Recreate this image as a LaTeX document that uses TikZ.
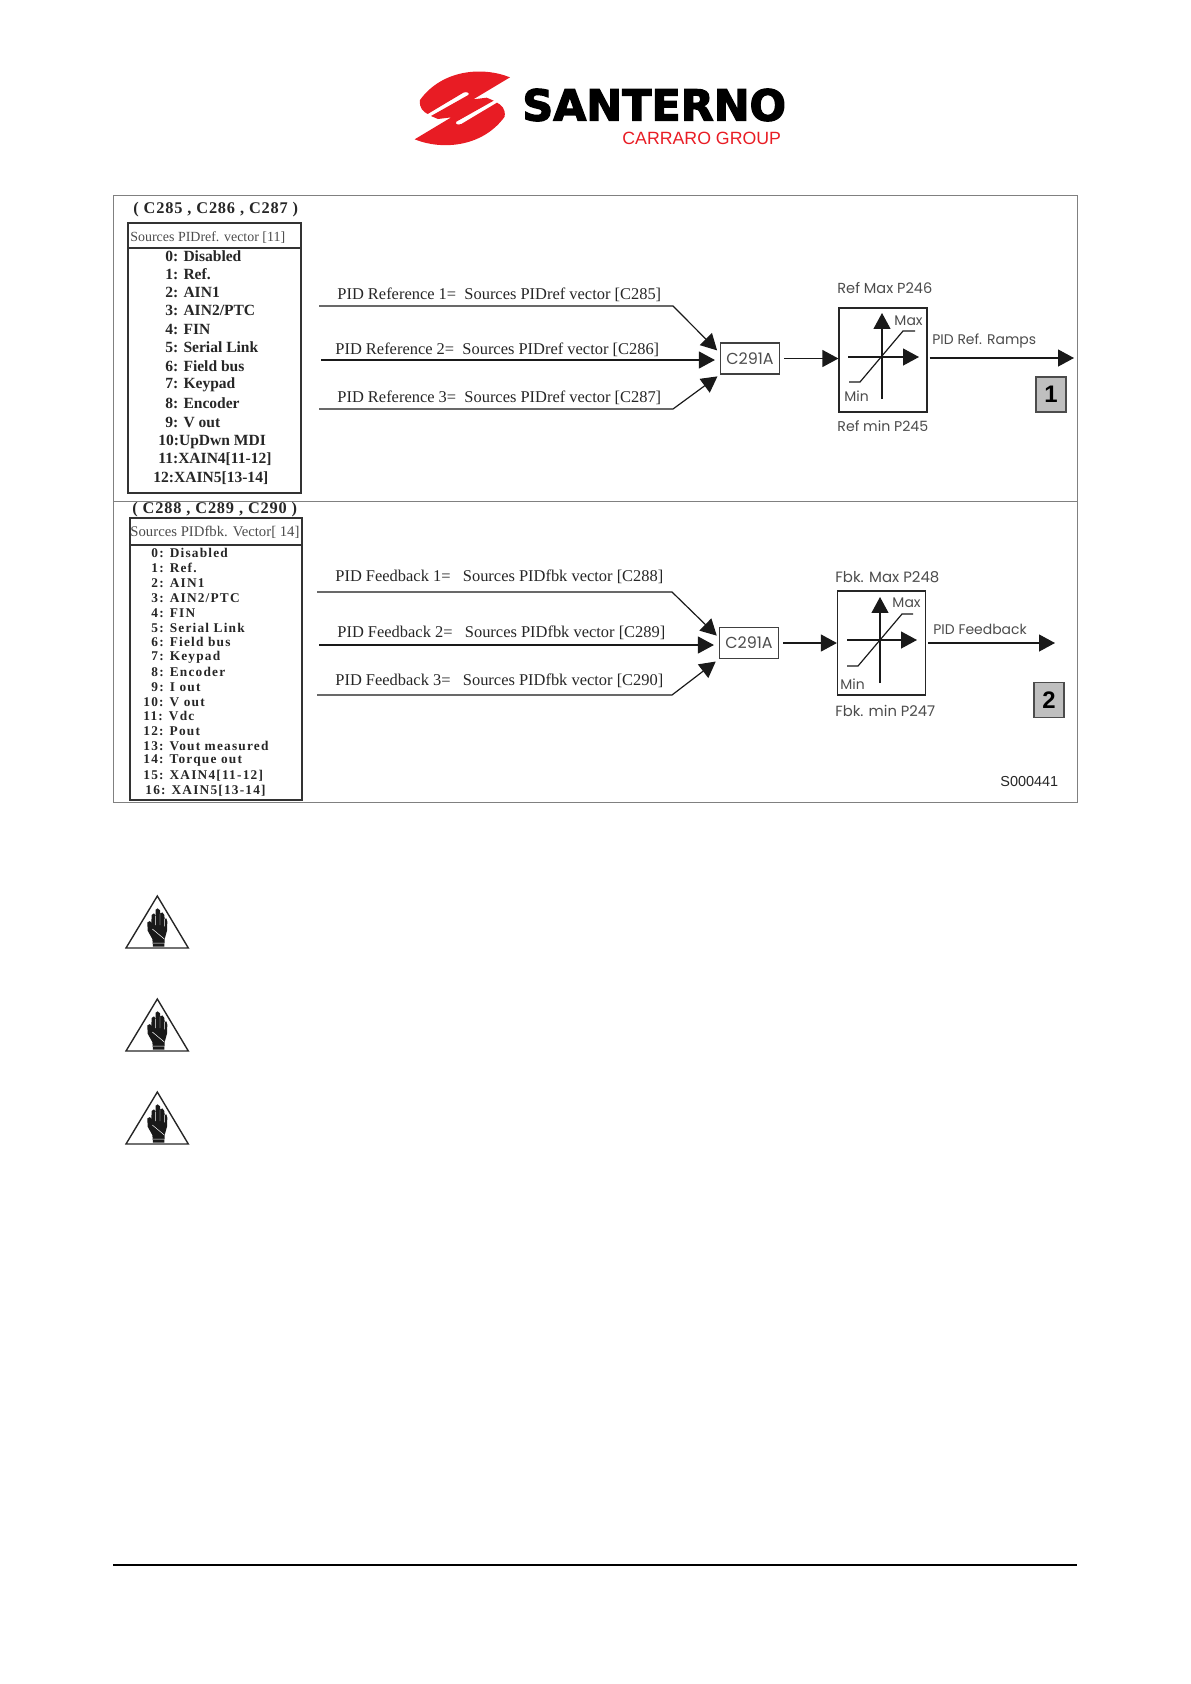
\documentclass[tikz,border=0pt]{standalone}
\usepackage{fontspec}
\setmainfont{Liberation Serif}
\newfontfamily\blockfont{Poppins}
\newfontfamily\codefont{Liberation Sans}
\newfontfamily\logofont{DejaVu Sans}[BoldFeatures={FakeBold=3}]
\newfontfamily\fbkfont{Liberation Serif}[LetterSpace=9]
\newfontfamily\selfont{Liberation Serif}[LetterSpace=5]
\definecolor{brandred}{RGB}{232,28,36}
\usetikzlibrary{arrows.meta, positioning, calc}

\begin{document}
\begin{tikzpicture}[
        x=0.5bp, y=-0.5bp,
        frameline/.style={draw=black!50, line width=0.5pt},
        listbox/.style={draw=black!80, line width=0.6pt, inner sep=0pt},
        sellabel/.style={anchor=west, inner sep=0pt, font=\fontsize{8.2}{9}\selectfont\selfont\bfseries, text=black!85},
        listhead/.style={anchor=west, inner sep=0pt, font=\fontsize{7}{9}\selectfont, text=black!70},
        refitem/.style={anchor=west, inner sep=0pt, font=\fontsize{7.8}{9}\selectfont\bfseries, text=black!85},
        fbkitem/.style={anchor=west, inner sep=0pt, font=\fontsize{6.7}{8}\selectfont\fbkfont\bfseries, text=black!85},
        linklabel/.style={anchor=west, inner sep=0pt, font=\fontsize{8.25}{10}\selectfont, text=black!85},
        blocklabel/.style={anchor=west, inner sep=0pt, font=\fontsize{7}{9}\selectfont\blockfont, text=black!70},
        selbox/.style={draw=black!75, line width=0.6pt, minimum width=29.5bp, minimum height=15.5bp, inner sep=0pt, font=\fontsize{8}{9}\selectfont\blockfont, text=black!70},
        limiter/.style={draw=black!85, line width=0.6pt, minimum width=44bp, minimum height=52bp, inner sep=0pt},
        tile/.style={draw=black!70, line width=0.8pt, fill=black!25, minimum width=15bp, minimum height=17.5bp, inner sep=0pt, font=\fontsize{12}{12}\selectfont\codefont\bfseries},
        wire/.style={line width=0.6pt, black!90},
        >={Triangle[length=8pt, width=8.5pt]}
    ]

    \useasboundingbox (0,0) rectangle (1191,1684);

    % ---- logo ----
    \begin{scope}[shift={(405,60)}, x=0.5bp/3, y=-0.5bp/3]
        \fill[brandred]
            (315,52) .. controls (230,18) and (110,30) .. (45,120)
            .. controls (42,145) and (55,155) .. (68,162) -- (175,98)
            .. controls (185,94) and (195,98) .. (190,105) -- (78,168) -- (99,177) -- (139,172)
            -- (29,238) .. controls (114,272) and (234,260) .. (299,170)
            .. controls (302,145) and (289,135) .. (276,128) -- (169,192)
            .. controls (159,196) and (149,192) .. (154,185) -- (266,122) -- (245,113) -- (205,118)
            -- cycle;
    \end{scope}
    \node[anchor=west, inner sep=0pt, font=\fontsize{21.5}{22}\selectfont\logofont\bfseries] (brand) at (522,105) {SANTERNO};
    \node[anchor=west, inner sep=0pt, text=brandred, font=\fontsize{8.9}{10}\selectfont\codefont] (group) at (622,138) {CARRARO GROUP};

    % ---- outer frame ----
    \node[frameline, minimum width=481.5bp, minimum height=303.5bp, inner sep=0pt] (frame) at (595.5,498.5) {};
    \draw[frameline] (frame.west |- 0,501) -- (frame.east |- 0,501);

    % ---- reference sources ----
    \node[sellabel] (refsel) at (133,210) {( C285 , C286 , C287 )};
    \node[listbox, minimum width=86.5bp, minimum height=135bp] (reflist) at (214.5,358) {};
    \node[listhead] (refhead) at (130,238) {Sources PIDref. vector [11]};
    \draw[listbox] (reflist.west |- 0,248) -- (reflist.east |- 0,248);
    \foreach \i/\itemx/\itemy/\itemtext in {
        0/165/256/{0: Disabled}, 1/165/274/{1: Ref.}, 2/165/292/{2: AIN1}, 3/165/310/{3: AIN2/PTC},
        4/165/329/{4: FIN}, 5/165/347/{5: Serial Link}, 6/165/366/{6: Field bus}, 7/165/385/{7: Keypad},
        8/165/403/{8: Encoder}, 9/165/422/{9: V out}, 10/158/442/{10:UpDwn MDI},
        11/158/459/{11:XAIN4[11-12]}, 12/153/478/{12:XAIN5[13-14]}}
        \node[refitem] (ref\i) at (\itemx,\itemy) {\itemtext};

    % ---- feedback sources ----
    \node[sellabel] (fbksel) at (132,510) {( C288 , C289 , C290 )};
    \node[listbox, minimum width=86bp, minimum height=141bp] (fbklist) at (216,659) {};
    \node[listhead, font=\fontsize{7.4}{9}\selectfont] (fbkhead) at (130,532) {Sources PIDfbk. Vector[ 14]};
    \draw[listbox] (fbklist.west |- 0,545) -- (fbklist.east |- 0,545);
    \foreach \i/\itemx/\itemy/\itemtext in {
        0/151/553/{0: Disabled}, 1/151/568/{1: Ref.}, 2/151/583/{2: AIN1}, 3/151/598/{3: AIN2/PTC},
        4/151/613/{4: FIN}, 5/151/628/{5: Serial Link}, 6/151/642/{6: Field bus}, 7/151/657/{7: Keypad},
        8/151/672/{8: Encoder}, 9/151/687/{9: I out}, 10/143/702/{10: V out}, 11/143/716/{11: Vdc},
        12/143/731/{12: Pout}, 13/143/746/{13: Vout measured}, 14/143/761/{14: Torque out},
        15/143/776/{15: XAIN4[11-12]}, 16/145/791/{16: XAIN5[13-14]}}
        \node[fbkitem] (fbk\i) at (\itemx,\itemy) {\itemtext};

    % ---- reference chain ----
    \node[linklabel] (reflabel1) at (337,295) {PID Reference 1=\ \ Sources PIDref vector [C285]};
    \node[linklabel] (reflabel2) at (335,350) {PID Reference 2=\ \ Sources PIDref vector [C286]};
    \node[linklabel] (reflabel3) at (337,398) {PID Reference 3=\ \ Sources PIDref vector [C287]};

    \node[selbox] (sel1) at (750,358.5) {C291A};
    \node[limiter] (lim1) at (883,360) {};
    \node[tile] (tile1) at (1051,394.5) {1};

    \coordinate (refin1) at (319,306);
    \coordinate (refin2) at (321,360);
    \coordinate (refin3) at (319,409);
    \coordinate (refout) at (1074,358);
    \coordinate (origin1) at (882,357);

    \draw[wire, ->, shorten >=2pt] (refin1) -- (673,306) -- (sel1.170);
    \draw[wire, ->, shorten >=2.5pt] (refin2) -- (refin2 -| sel1.west);
    \draw[wire, ->, shorten >=1.5pt] (refin3) -- (673,409) -- (sel1.south west);
    \draw[wire, ->, shorten <=2pt] (sel1.east) -- (sel1.east -| lim1.west);
    \draw[wire, ->, shorten <=1pt] (lim1.east |- refout) -- (refout);

    % ---- limiter curve, ref ----
    \draw[wire, ->] ($(origin1)+(0,42)$) -- ++(0,-86);
    \draw[wire, ->] ($(origin1)+(-34,0)$) -- ++(71,0);
    \draw[wire] (849,382) -- (860,382) -- (903,331) -- (915,331);
    \node[blocklabel, anchor=east] (max1) at (923,321) {Max};
    \node[blocklabel] (min1) at (844,396) {Min};
    \node[blocklabel, font=\fontsize{7.3}{9}\selectfont\blockfont] (refmax) at (837,288) {Ref Max P246};
    \node[blocklabel, font=\fontsize{7.1}{9}\selectfont\blockfont] (refmin) at (837,426) {Ref min P245};
    \node[blocklabel] (refname) at (932,341) {PID Ref. Ramps};

    % ---- feedback chain ----
    \node[linklabel] (fbklabel1) at (335,577) {PID Feedback 1=\ \ \ Sources PIDfbk vector [C288]};
    \node[linklabel] (fbklabel2) at (337,633) {PID Feedback 2=\ \ \ Sources PIDfbk vector [C289]};
    \node[linklabel] (fbklabel3) at (335,681) {PID Feedback 3=\ \ \ Sources PIDfbk vector [C290]};

    \node[selbox] (sel2) at (749,643) {C291A};
    \node[limiter] (lim2) at (881.5,643) {};
    \node[tile] (tile2) at (1049,700) {2};

    \coordinate (fbkin1) at (317,592);
    \coordinate (fbkin2) at (319,645);
    \coordinate (fbkin3) at (317,695);
    \coordinate (fbkout) at (1055,643);
    \coordinate (origin2) at (880,640);

    \draw[wire, ->, shorten >=1.5pt] (fbkin1) -- (672,592) -- (sel2.170);
    \draw[wire, ->, shorten >=2.5pt] (fbkin2) -- (fbkin2 -| sel2.west);
    \draw[wire, ->, shorten >=2pt] (fbkin3) -- (672,695) -- (sel2.south west);
    \draw[wire, ->, shorten <=2pt] (sel2.east) -- (sel2.east -| lim2.west);
    \draw[wire, ->, shorten <=1pt] (lim2.east |- fbkout) -- (fbkout);

    % ---- limiter curve, fbk ----
    \draw[wire, ->] ($(origin2)+(0,43)$) -- ++(0,-86);
    \draw[wire, ->] ($(origin2)+(-33,0)$) -- ++(70,0);
    \draw[wire] (847,666) -- (858,666) -- (902,614) -- (913,614);
    \node[blocklabel, anchor=east] (max2) at (921,603) {Max};
    \node[blocklabel] (min2) at (840,684) {Min};
    \node[blocklabel, font=\fontsize{7.5}{9}\selectfont\blockfont] (fbkmax) at (835,577) {Fbk. Max P248};
    \node[blocklabel, font=\fontsize{7.4}{9}\selectfont\blockfont] (fbkmin) at (835,711) {Fbk. min P247};
    \node[blocklabel] (fbkname) at (933,629) {PID Feedback};

    \node[anchor=west, inner sep=0pt, font=\fontsize{7.25}{9}\selectfont\codefont, text=black!85] (drawno) at (1000,782) {S000441};

    % ---- warning signs ----
    \foreach \warny in {948,1051,1144} {
        \begin{scope}[shift={(115,\warny-62.33)}, x=0.5bp/3, y=-0.5bp/3]
            \draw[line width=0.7pt, black!85, line join=miter] (127,31) -- (220,187) -- (33,187) -- cycle;
            \fill[black!90] (114,183) -- (112,160) -- (98,135) -- (97,110) -- (105,106) -- (109,112)
                -- (110,88) -- (117,83) -- (122,90) -- (122,72) -- (128,68) -- (135,74) -- (136,84)
                -- (142,80) -- (148,88) -- (149,100) -- (154,98) -- (157,108) -- (156,135) -- (149,160)
                -- (148,183) -- cycle;
            \draw[white, line width=0.25pt] (122,90) -- (122,118) (135,84) -- (135,118) (148,100) -- (148,122)
                (112,130) -- (148,160) (114,172) -- (148,172);
        \end{scope}
    }

    % ---- page rule ----
    \draw[black, line width=1pt] (113,1565) -- (1077,1565);

\end{tikzpicture}
\end{document}
